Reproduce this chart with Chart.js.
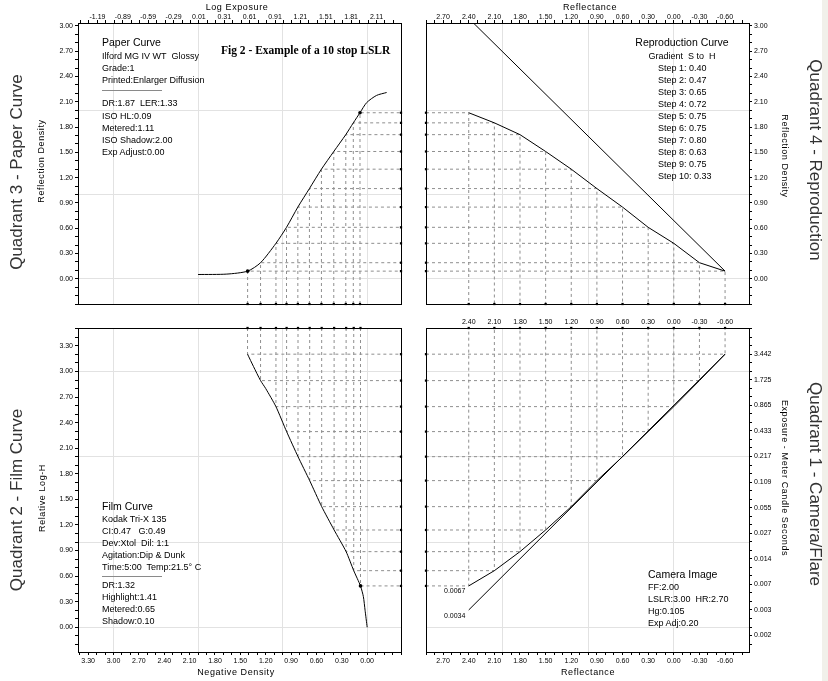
<!DOCTYPE html>
<html>
<head>
<meta charset="utf-8">
<title>Fig 2 - Example of a 10 stop LSLR</title>
<script src="https://cdn.jsdelivr.net/npm/chart.js@4.4.0/dist/chart.umd.min.js"></script>
<style>
  body { margin: 0; background: #fff; }
  #wrap { position: relative; width: 828px; height: 681px; overflow: hidden; background: #fff;
          font-family: 'Liberation Sans', Arial, sans-serif; color: #000; }
  #strip { position: absolute; left: 822px; top: 0; width: 6px; height: 681px; background: #f1f0ea; }
  canvas { position: absolute; }
  .t { position: absolute; white-space: nowrap; font-size: 9px; line-height: 12px; height: 12px; }
  .h { font-size: 10.5px; }
  .c { transform: translateX(-50%); }
  .sep { position: absolute; height: 1px; width: 60px; background: #8a8a8a; }
  .ax { position: absolute; white-space: nowrap; font-size: 9px; letter-spacing: 0.6px; transform: translate(-50%, -50%); }
  .up { transform: translate(-50%, -50%) rotate(-90deg); }
  .dn { transform: translate(-50%, -50%) rotate(90deg); }
  .quad { font-size: 17px; letter-spacing: 0; color: #333; }
  .small { position: absolute; font-size: 7px; white-space: nowrap; }
  #fig { position: absolute; left: 221px; top: 44px; font: bold 11.5px 'Liberation Serif', 'Times New Roman', serif; white-space: nowrap; }
</style>
</head>
<body>
<div id="wrap">
  <div id="strip"></div>
  <canvas id="q3" width="414" height="316" style="left:0;top:0"></canvas>
  <canvas id="q4" width="414" height="316" style="left:414px;top:0"></canvas>
  <canvas id="q2" width="414" height="365" style="left:0;top:316px"></canvas>
  <canvas id="q1" width="414" height="365" style="left:414px;top:316px"></canvas>

  <!-- axis titles -->
  <div class="ax" style="left:237px;top:7px">Log Exposure</div>
  <div class="ax" style="left:590px;top:7px">Reflectance</div>
  <div class="ax" style="left:236px;top:672px">Negative Density</div>
  <div class="ax" style="left:588px;top:672px">Reflectance</div>
  <div class="ax up" style="left:41px;top:161px">Reflection Density</div>
  <div class="ax up" style="left:42px;top:498px">Relative Log-H</div>
  <div class="ax dn" style="left:785px;top:156px">Reflection Density</div>
  <div class="ax dn" style="left:785px;top:478px">Exposure - Meter Candle Seconds</div>
  <div class="ax up quad" style="left:17px;top:172px">Quadrant 3 - Paper Curve</div>
  <div class="ax up quad" style="left:17px;top:500px">Quadrant 2 - Film Curve</div>
  <div class="ax dn quad" style="left:815px;top:160px">Quadrant 4 - Reproduction</div>
  <div class="ax dn quad" style="left:815px;top:484px">Quadrant 1 - Camera/Flare</div>

  <div id="fig">Fig 2 - Example of a 10 stop LSLR</div>

  <!-- Quadrant 3 notes -->
  <div class="t h" style="left:102px;top:36px">Paper Curve</div>
  <div class="t" style="left:102px;top:50px">Ilford MG IV WT&nbsp; Glossy</div>
  <div class="t" style="left:102px;top:62px">Grade:1</div>
  <div class="t" style="left:102px;top:74px">Printed:Enlarger Diffusion</div>
  <div class="sep" style="left:102px;top:90px"></div>
  <div class="t" style="left:102px;top:97px">DR:1.87&nbsp; LER:1.33</div>
  <div class="t" style="left:102px;top:110px">ISO HL:0.09</div>
  <div class="t" style="left:102px;top:122px">Metered:1.11</div>
  <div class="t" style="left:102px;top:134px">ISO Shadow:2.00</div>
  <div class="t" style="left:102px;top:146px">Exp Adjust:0.00</div>

  <!-- Quadrant 4 notes -->
  <div class="t h c" style="left:682px;top:36px">Reproduction Curve</div>
  <div class="t c" style="left:682px;top:50px">Gradient&nbsp; S to&nbsp; H</div>
  <div class="t" style="left:658px;top:62px">Step 1: 0.40</div>
  <div class="t" style="left:658px;top:74px">Step 2: 0.47</div>
  <div class="t" style="left:658px;top:86px">Step 3: 0.65</div>
  <div class="t" style="left:658px;top:98px">Step 4: 0.72</div>
  <div class="t" style="left:658px;top:110px">Step 5: 0.75</div>
  <div class="t" style="left:658px;top:122px">Step 6: 0.75</div>
  <div class="t" style="left:658px;top:134px">Step 7: 0.80</div>
  <div class="t" style="left:658px;top:146px">Step 8: 0.63</div>
  <div class="t" style="left:658px;top:158px">Step 9: 0.75</div>
  <div class="t" style="left:658px;top:170px">Step 10: 0.33</div>

  <!-- Quadrant 2 notes -->
  <div class="t h" style="left:102px;top:500px">Film Curve</div>
  <div class="t" style="left:102px;top:513px">Kodak Tri-X 135</div>
  <div class="t" style="left:102px;top:525px">CI:0.47&nbsp;&nbsp; G:0.49</div>
  <div class="t" style="left:102px;top:537px">Dev:Xtol&nbsp; Dil: 1:1</div>
  <div class="t" style="left:102px;top:549px">Agitation:Dip &amp; Dunk</div>
  <div class="t" style="left:102px;top:561px">Time:5:00&nbsp; Temp:21.5° C</div>
  <div class="sep" style="left:102px;top:576px"></div>
  <div class="t" style="left:102px;top:579px">DR:1.32</div>
  <div class="t" style="left:102px;top:591px">Highlight:1.41</div>
  <div class="t" style="left:102px;top:603px">Metered:0.65</div>
  <div class="t" style="left:102px;top:615px">Shadow:0.10</div>

  <!-- Quadrant 1 notes -->
  <div class="t h" style="left:648px;top:568px">Camera Image</div>
  <div class="t" style="left:648px;top:581px">FF:2.00</div>
  <div class="t" style="left:648px;top:593px">LSLR:3.00&nbsp; HR:2.70</div>
  <div class="t" style="left:648px;top:605px">Hg:0.105</div>
  <div class="t" style="left:648px;top:617px">Exp Adj:0.20</div>
  <div class="small" style="left:444px;top:587px">0.0067</div>
  <div class="small" style="left:444px;top:612px">0.0034</div>
</div>

<script>
// ---- steps, shadow (2.40) to highlight (-0.60) ----
const stepReflectance  = [2.40, 2.10, 1.80, 1.50, 1.20, 0.90, 0.60, 0.30, 0.00, -0.30, -0.60];
const stepPrintDensity = [1.97, 1.85, 1.71, 1.51, 1.30, 1.07, 0.85, 0.61, 0.42, 0.19, 0.09];
const stepPaperLogE    = [1.915, 1.836, 1.747, 1.605, 1.459, 1.317, 1.180, 1.046, 0.921, 0.739, 0.586];
const stepNegDensity   = [0.079, 0.159, 0.249, 0.391, 0.538, 0.680, 0.818, 0.953, 1.079, 1.261, 1.415];
const stepLogH         = [0.485, 0.664, 0.887, 1.141, 1.415, 1.720, 2.001, 2.295, 2.588, 2.893, 3.203];

// paper curve (quadrant 3)
const paperLogE    = [0.00, 0.34, 0.586, 0.739, 0.921, 1.046, 1.180, 1.317, 1.459, 1.605, 1.747, 1.836, 1.915, 1.994, 2.11, 2.23];
const paperDensity = [0.05, 0.055, 0.09, 0.19, 0.42, 0.61, 0.85, 1.07, 1.30, 1.51, 1.71, 1.85, 1.97, 2.09, 2.175, 2.21];

// film curve (quadrant 2)
const filmNegDensity = [1.415, 1.344, 1.261, 1.20, 1.079, 0.953, 0.818, 0.680, 0.538, 0.391, 0.249, 0.159, 0.079, 0.045, 0.025, 0.00];
const filmLogH       = [3.203, 3.057, 2.893, 2.80, 2.588, 2.295, 2.001, 1.720, 1.415, 1.141, 0.887, 0.664, 0.485, 0.36, 0.20, 0.00];

// straight reference lines
const idealReflectance = [2.40, -0.60];
const idealDensity     = [3.09, 0.09];
const noFlareReflectance = [2.40, -0.60];
const noFlareLogH        = [0.203, 3.203];

// tick labels
const logExposureTicks = [-1.19, -0.89, -0.59, -0.29, 0.01, 0.31, 0.61, 0.91, 1.21, 1.51, 1.81, 2.11];
const densityTicks     = [0.00, 0.30, 0.60, 0.90, 1.20, 1.50, 1.80, 2.10, 2.40, 2.70, 3.00];
const reflectanceTicks = [2.70, 2.40, 2.10, 1.80, 1.50, 1.20, 0.90, 0.60, 0.30, 0.00, -0.30, -0.60];
const reflectanceTopTicks = [2.40, 2.10, 1.80, 1.50, 1.20, 0.90, 0.60, 0.30, 0.00, -0.30, -0.60];
const negDensityTicks  = [3.30, 3.00, 2.70, 2.40, 2.10, 1.80, 1.50, 1.20, 0.90, 0.60, 0.30, 0.00];
const logHTicks        = [0.00, 0.30, 0.60, 0.90, 1.20, 1.50, 1.80, 2.10, 2.40, 2.70, 3.00, 3.30];
const exposureTickLogH = [3.203, 2.903, 2.603, 2.303, 2.003, 1.703, 1.403, 1.103, 0.803, 0.503, 0.203, -0.097];
const exposureTickText = ['3.442', '1.725', '0.865', '0.433', '0.217', '0.109', '0.055', '0.027', '0.014', '0.007', '0.003', '0.002'];

// axis ranges
const LOGE = { min: -1.42, max: 2.40 };
const NEGD = { min: -0.40, max: 3.42 };
const REFL = { min: -0.88, max: 2.90 };
const DENS = { min: -0.30, max: 3.035 };
const LOGH = { min: -0.29, max: 3.51 };

const GRID = '#e2e2e2';
const DASH = '#8f8f8f';
const axisFont = { family: "'Liberation Sans', Arial, sans-serif", size: 7 };

function buildTicks(labels, minor, min, max, grid) {
  const out = [];
  const add = (v, props) => {
    v = Math.round(v * 1000) / 1000;
    if (v < min - 1e-9 || v > max + 1e-9) return;
    let t = out.find(o => Math.abs(o.value - v) < 1e-6);
    if (!t) { t = { value: v }; out.push(t); }
    Object.assign(t, props);
  };
  (labels || []).forEach((v, i) => add(v, { mark: true, lab: i }));
  if (minor && labels) {
    for (let k = -60; k <= 60; k++) add(labels[0] + k * minor, { mark: true });
  }
  (grid || []).forEach(v => add(v, { grid: true }));
  return out.sort((a, b) => a.value - b.value);
}

function scale(o) {
  const ticks = buildTicks(o.labels, o.minor, o.min, o.max, o.grid);
  return {
    type: 'linear', position: o.pos, min: o.min, max: o.max, reverse: !!o.reverse,
    afterBuildTicks: s => { s.ticks = ticks.map(t => Object.assign({}, t)); },
    afterFit: s => {
      if (s.isHorizontal()) s.height = o.size; else s.width = o.size;
      s.paddingLeft = s.paddingRight = s.paddingTop = s.paddingBottom = 0;
    },
    border: { display: true, color: '#000', width: 1 },
    grid: {
      drawOnChartArea: true, drawTicks: true, tickLength: o.tickLen == null ? 3 : o.tickLen, lineWidth: 1,
      color: c => (c.tick && c.tick.grid) ? GRID : 'rgba(0,0,0,0)',
      tickColor: c => (c.tick && c.tick.mark) ? '#000' : 'rgba(0,0,0,0)'
    },
    ticks: {
      display: true, autoSkip: false, maxRotation: 0, minRotation: 0,
      padding: o.pad == null ? 2 : o.pad, color: '#000', font: axisFont,
      callback: (v, i, arr) => {
        const t = arr[i];
        if (!t || t.lab === undefined) return '';
        return o.text ? o.text[t.lab] : o.labels[t.lab].toFixed(2);
      }
    }
  };
}

function edge(pos) {
  return {
    type: 'linear', position: pos,
    afterFit: s => {
      if (s.isHorizontal()) s.height = 0; else s.width = 0;
      s.paddingLeft = s.paddingRight = s.paddingTop = s.paddingBottom = 0;
    },
    grid: { display: false }, ticks: { display: false },
    border: { display: true, color: '#000', width: 1 }
  };
}

function pts(xs, ys) { return xs.map((x, i) => ({ x: x, y: ys[i] })); }

function curve(xs, ys, tension) {
  return { data: pts(xs, ys), showLine: true, borderColor: '#000', borderWidth: 1,
           pointRadius: 0, tension: tension || 0, order: 0 };
}
function dashed(data) {
  return { data: data, showLine: true, borderColor: DASH, borderWidth: 1, borderDash: [3, 3],
           pointRadius: 0, order: 5 };
}
function markers(data, style, r) {
  return { data: data, showLine: false, pointStyle: style || 'rect', pointRadius: r || 1.6,
           pointBackgroundColor: '#000', pointBorderWidth: 0, clip: 6, order: 0 };
}

function make(id, datasets, scales, padding) {
  return new Chart(document.getElementById(id), {
    type: 'scatter',
    data: { datasets: datasets },
    options: {
      responsive: false, animation: false, events: [],
      layout: { padding: padding, autoPadding: false },
      plugins: { legend: { display: false }, tooltip: { enabled: false }, title: { display: false } },
      scales: scales
    }
  });
}

// ---------- Quadrant 3: paper curve ----------
(function () {
  const ds = [curve(paperLogE, paperDensity, 0.25)];
  const edgeMarks = [];
  stepPaperLogE.forEach((x, i) => {
    const y = stepPrintDensity[i];
    ds.push(dashed([{ x: x, y: DENS.min }, { x: x, y: y }, { x: LOGE.max, y: y }]));
    edgeMarks.push({ x: x, y: DENS.min }, { x: LOGE.max, y: y });
  });
  ds.push(markers(edgeMarks));
  ds.push(markers([{ x: stepPaperLogE[0], y: stepPrintDensity[0] },
                   { x: stepPaperLogE[10], y: stepPrintDensity[10] }], 'circle', 1.8));
  make('q3', ds, {
    x: scale({ pos: 'top', min: LOGE.min, max: LOGE.max, labels: logExposureTicks, minor: 0.1,
               grid: [-1, 0, 1, 2], size: 23, pad: -1.5 }),
    y: scale({ pos: 'left', min: DENS.min, max: DENS.max, labels: densityTicks, minor: 0.1,
               grid: [0, 1, 2], size: 78 }),
    xb: edge('bottom'),
    yr: edge('right')
  }, { top: 0, left: 0, right: 13, bottom: 12 });
})();

// ---------- Quadrant 4: reproduction ----------
(function () {
  const ds = [curve(stepReflectance, stepPrintDensity, 0), curve(idealReflectance, idealDensity, 0)];
  const edgeMarks = [];
  stepReflectance.forEach((x, i) => {
    const y = stepPrintDensity[i];
    ds.push(dashed([{ x: REFL.max, y: y }, { x: x, y: y }, { x: x, y: DENS.min }]));
    edgeMarks.push({ x: x, y: DENS.min }, { x: REFL.max, y: y });
  });
  ds.push(markers(edgeMarks));
  make('q4', ds, {
    x: scale({ pos: 'top', min: REFL.min, max: REFL.max, reverse: true, labels: reflectanceTicks, minor: 0.1,
               grid: [0, 1, 2], size: 23, pad: -1.5 }),
    y: scale({ pos: 'right', min: DENS.min, max: DENS.max, labels: densityTicks, minor: 0.1,
               grid: [0, 1, 2], size: 79 }),
    xb: edge('bottom'),
    yl: edge('left')
  }, { top: 0, left: 12, right: 0, bottom: 12 });
})();

// ---------- Quadrant 2: film curve ----------
(function () {
  const ds = [curve(filmNegDensity, filmLogH, 0.2)];
  const edgeMarks = [];
  stepNegDensity.forEach((x, i) => {
    const y = stepLogH[i];
    ds.push(dashed([{ x: x, y: LOGH.max }, { x: x, y: y }, { x: NEGD.min, y: y }]));
    edgeMarks.push({ x: x, y: LOGH.max }, { x: NEGD.min, y: y });
  });
  ds.push(markers(edgeMarks));
  ds.push(markers([{ x: stepNegDensity[0], y: stepLogH[0] }], 'circle', 1.8));
  make('q2', ds, {
    x: scale({ pos: 'bottom', min: NEGD.min, max: NEGD.max, reverse: true, labels: negDensityTicks, minor: 0.1,
               grid: [0, 1, 2, 3], size: 29 }),
    y: scale({ pos: 'left', min: LOGH.min, max: LOGH.max, labels: logHTicks, minor: 0.1,
               grid: [0, 1, 2, 3], size: 78 }),
    xt: edge('top'),
    yr: edge('right')
  }, { top: 12, left: 0, right: 13, bottom: 0 });
})();

// ---------- Quadrant 1: camera / flare ----------
(function () {
  const ds = [curve(stepReflectance, stepLogH, 0), curve(noFlareReflectance, noFlareLogH, 0)];
  const edgeMarks = [];
  stepReflectance.forEach((x, i) => {
    const y = stepLogH[i];
    ds.push(dashed([{ x: REFL.max, y: y }, { x: x, y: y }, { x: x, y: LOGH.max }]));
    edgeMarks.push({ x: REFL.max, y: y }, { x: x, y: LOGH.max });
  });
  ds.push(markers(edgeMarks));
  make('q1', ds, {
    x: scale({ pos: 'bottom', min: REFL.min, max: REFL.max, reverse: true, labels: reflectanceTicks, minor: 0.1,
               grid: [0, 1, 2], size: 29 }),
    xt: scale({ pos: 'top', min: REFL.min, max: REFL.max, reverse: true, labels: reflectanceTopTicks,
                size: 12, tickLen: 1, pad: 1 }),
    y: scale({ pos: 'right', min: LOGH.min, max: LOGH.max, labels: exposureTickLogH, text: exposureTickText,
               minor: 0.1, grid: [0, 1, 2, 3], size: 79 }),
    yl: edge('left')
  }, { top: 0, left: 12, right: 0, bottom: 0 });
})();
</script>
</body>
</html>
